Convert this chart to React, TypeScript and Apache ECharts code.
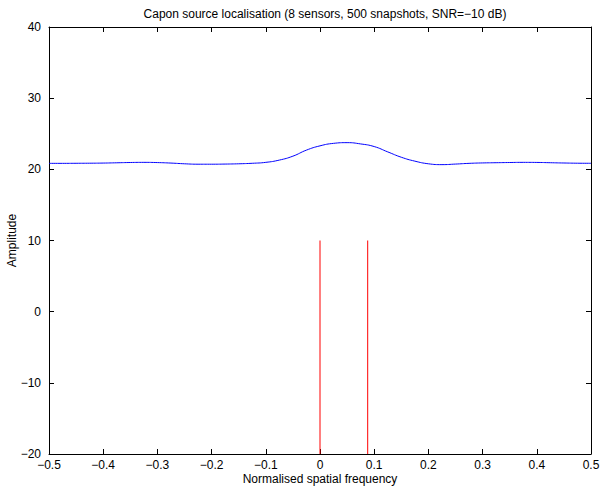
import React, { useEffect, useRef } from "react";
import * as echarts from "echarts";

const freq = [
  -0.5, -0.475, -0.45, -0.425, -0.4, -0.375, -0.35, -0.325, -0.3, -0.275,
  -0.25, -0.225, -0.2, -0.175, -0.15, -0.125, -0.1, -0.075, -0.05, -0.025,
  0, 0.025, 0.05, 0.075, 0.1, 0.125, 0.15, 0.175, 0.2, 0.225,
  0.25, 0.275, 0.3, 0.325, 0.35, 0.375, 0.4, 0.425, 0.45, 0.475, 0.5,
];
const amplitude = [
  20.84, 20.84, 20.85, 20.86, 20.88, 20.92, 20.96, 20.98, 20.95, 20.88,
  20.78, 20.72, 20.72, 20.74, 20.78, 20.85, 20.98, 21.3, 21.85, 22.7,
  23.3, 23.65, 23.75, 23.57, 23.2, 22.45, 21.7, 21.15, 20.78, 20.66,
  20.74, 20.84, 20.9, 20.93, 20.96, 20.98, 20.97, 20.93, 20.89, 20.86, 20.85,
];
const sourceFreq = [0, 0.088];
const sourceTop = [10, 10];
const yBase = -20;

const title = "Capon source localisation (8 sensors, 500 snapshots, SNR=\u221210 dB)";
const xName = "Normalised spatial frequency";
const yName = "Amplitude";

const FONT = "'Liberation Sans', Arial, Helvetica, sans-serif";

const fmt = (v: number) => {
  const s = String(Math.round(v * 1000) / 1000);
  return s.replace("-", "\u2212");
};

export default function App() {
  const ref = useRef<HTMLDivElement>(null);
  useEffect(() => {
    if (!ref.current) return;
    const chart = echarts.init(ref.current, undefined, { renderer: "svg" });
    const curve = freq.map((f, i) => [f, amplitude[i]]);
    const stems = sourceFreq.map((f, i) => ({
      type: "line",
      data: [
        [f, yBase],
        [f, sourceTop[i]],
      ],
      symbol: "none",
      lineStyle: { color: "#ff0000", width: 1 },
      silent: true,
      z: 3,
    }));
    const axisCommon = {
      axisLine: { show: true, onZero: false, lineStyle: { color: "#000", width: 1 } },
      axisTick: { show: true, inside: true, length: 5, lineStyle: { color: "#000" } },
      splitLine: { show: false },
    };
    chart.setOption({
      animation: false,
      backgroundColor: "#fff",
      title: {
        text: title,
        left: 320,
        textAlign: "center",
        top: 3,
        textStyle: { fontFamily: FONT, fontSize: 12, fontWeight: "normal", color: "#000" },
      },
      grid: {
        left: 49,
        right: 11,
        top: 27,
        bottom: 32,
        containLabel: false,
        outerBoundsMode: "none",
      },
      xAxis: [
        {
          type: "value",
          min: -0.5,
          max: 0.5,
          interval: 0.1,
          position: "bottom",
          ...axisCommon,
          axisLabel: {
            formatter: fmt,
            fontFamily: FONT,
            fontSize: 12,
            color: "#000",
            margin: 5,
          },
          name: xName,
          nameLocation: "middle",
          nameGap: 19,
          nameMoveOverlap: false,
          nameTextStyle: { fontFamily: FONT, fontSize: 12, color: "#000" },
        },
        {
          type: "value",
          min: -0.5,
          max: 0.5,
          interval: 0.1,
          position: "top",
          ...axisCommon,
          axisLabel: { show: false },
        },
      ],
      yAxis: [
        {
          type: "value",
          min: -20,
          max: 40,
          interval: 10,
          position: "left",
          ...axisCommon,
          axisLabel: {
            formatter: fmt,
            fontFamily: FONT,
            fontSize: 12,
            color: "#000",
            margin: 8,
          },
          name: yName,
          nameLocation: "middle",
          nameGap: 31,
          nameMoveOverlap: false,
          nameTextStyle: { fontFamily: FONT, fontSize: 12, color: "#000" },
        },
        {
          type: "value",
          min: -20,
          max: 40,
          interval: 10,
          position: "right",
          ...axisCommon,
          axisLabel: { show: false },
        },
      ],
      series: [
        {
          type: "line",
          data: curve,
          symbol: "none",
          smooth: 0.5,
          lineStyle: { color: "#0000ff", width: 1 },
          silent: true,
          z: 3,
        },
        ...stems,
      ],
    });
    return () => chart.dispose();
  }, []);
  return <div ref={ref} style={{ width: 602, height: 486, position: "absolute", left: 0, top: 0 }} />;
}
